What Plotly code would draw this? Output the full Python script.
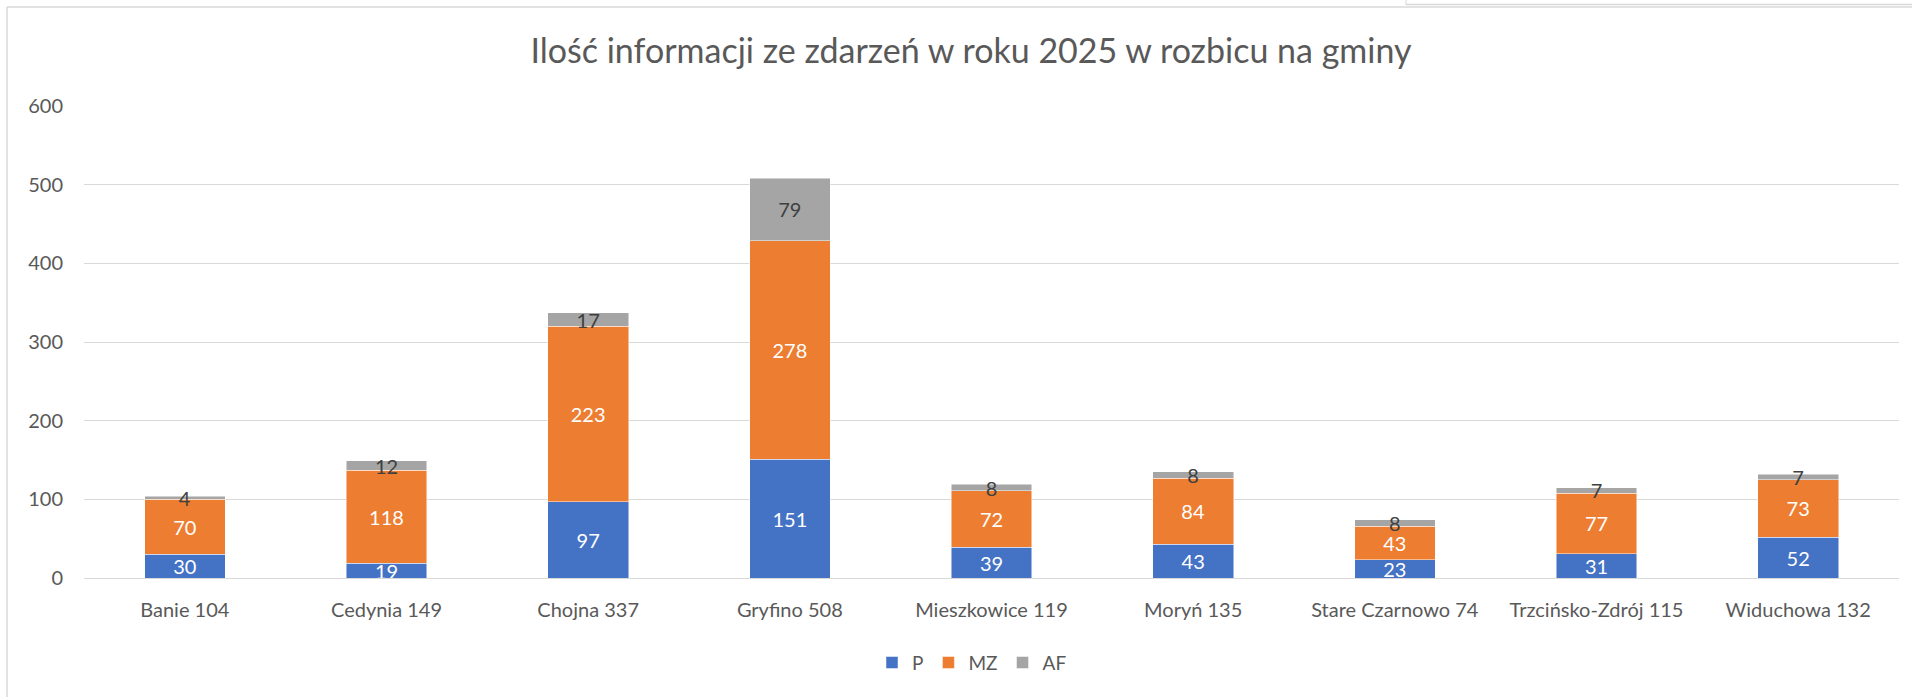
import plotly.graph_objects as go

categories = ["Banie 104", "Cedynia 149", "Chojna 337", "Gryfino 508", "Mieszkowice 119",
              "Moryń 135", "Stare Czarnowo 74", "Trzcińsko-Zdrój 115", "Widuchowa 132"]
p_values = [30, 19, 97, 151, 39, 43, 23, 31, 52]
mz_values = [70, 118, 223, 278, 72, 84, 43, 77, 73]
af_values = [4, 12, 17, 79, 8, 8, 8, 7, 7]
y_ticks = [0, 100, 200, 300, 400, 500, 600]

W, H = 1912, 697
L, R, T, B = 84, 1899, 106, 578.3

def px_x(x):
    return (x - L) / (R - L)

def px_y(y):
    return (B - y) / (B - T)

FONT = "Lato, Carlito, Calibri, sans-serif"
GREY = "#595959"

fig = go.Figure()
series = [("P", p_values, "#4472C4", "#ffffff"),
          ("MZ", mz_values, "#ED7D31", "#ffffff"),
          ("AF", af_values, "#A5A5A5", "#404040")]
for name, vals, col, tcol in series:
    fig.add_trace(go.Bar(
        x=categories, y=vals, name=name,
        marker=dict(color=col, line=dict(color="rgba(255,255,255,0.6)", width=0.8)),
        text=[str(v) for v in vals], textposition="inside", insidetextanchor="middle",
        textangle=0, constraintext="none",
        textfont=dict(family=FONT, size=20, color=tcol),
        hoverinfo="skip",
    ))

shapes = [
    dict(type="line", xref="paper", yref="paper", x0=px_x(7), x1=px_x(7), y0=px_y(7), y1=px_y(720),
         line=dict(color="#d9d9d9", width=1.5)),
    dict(type="line", xref="paper", yref="paper", x0=px_x(7), x1=px_x(1930), y0=px_y(7), y1=px_y(7),
         line=dict(color="#d9d9d9", width=1.5)),
    dict(type="line", xref="paper", yref="paper", x0=px_x(1406), x1=px_x(1406), y0=px_y(-2), y1=px_y(5),
         line=dict(color="#d9d9d9", width=1)),
    dict(type="line", xref="paper", yref="paper", x0=px_x(1406), x1=px_x(1930), y0=px_y(4.5), y1=px_y(4.5),
         line=dict(color="#d9d9d9", width=1.5)),
]

fig.update_layout(
    width=W, height=H,
    margin=dict(l=L, r=W - R, t=T, b=H - B, pad=0),
    barmode="stack", bargap=0.6,
    paper_bgcolor="white", plot_bgcolor="white",
    font=dict(family=FONT, color=GREY),
    title=dict(text="Ilość informacji ze zdarzeń w roku 2025 w rozbicu na gminy",
               x=px_x(971), xref="paper", xanchor="center",
               y=1 - 51 / H, yref="container", yanchor="middle",
               font=dict(family=FONT, size=34, color=GREY)),
    xaxis=dict(showgrid=False, showline=False, ticks="", ticklabelstandoff=18,
               tickfont=dict(family=FONT, size=20, color=GREY)),
    yaxis=dict(range=[0, 600], tickvals=y_ticks, showgrid=True, gridcolor="#d9d9d9", gridwidth=1.3,
               zeroline=True, zerolinecolor="#d9d9d9", zerolinewidth=1.3,
               showline=False, ticks="", ticklabelstandoff=20,
               tickfont=dict(family=FONT, size=20, color=GREY)),
    legend=dict(orientation="h", x=px_x(972), xanchor="center", y=px_y(663), yanchor="middle",
                font=dict(family=FONT, size=19, color=GREY), traceorder="normal",
                itemclick=False, itemdoubleclick=False, itemwidth=30, tracegroupgap=0),
    shapes=shapes,
)

fig.write_html("out.html", config={"displayModeBar": False},
               post_script="document.body.style.margin='0';document.body.style.overflow='hidden';")
